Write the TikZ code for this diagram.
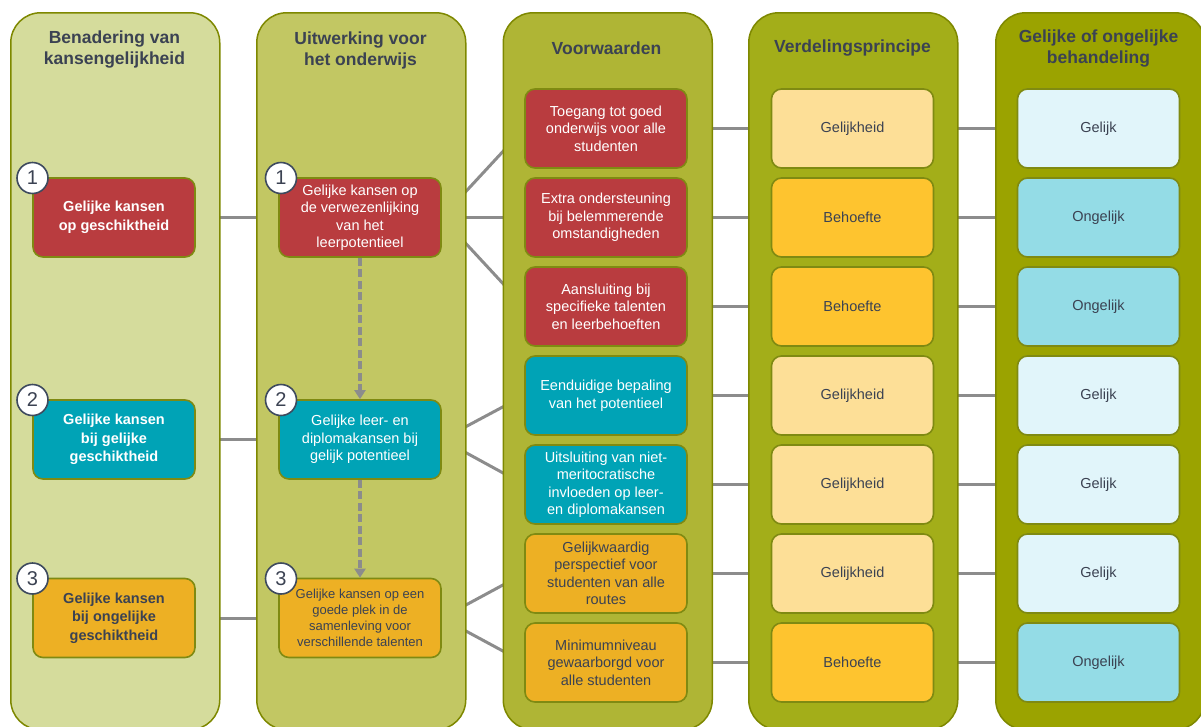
\documentclass[tikz,border=0pt]{standalone}
\usepackage{fontspec}
\setmainfont{Liberation Sans}
\usetikzlibrary{arrows.meta}
\definecolor{pone}{HTML}{D5DC9C}
\definecolor{ptwo}{HTML}{C2C763}
\definecolor{pthree}{HTML}{AFB535}
\definecolor{pfour}{HTML}{A3AE19}
\definecolor{pfive}{HTML}{9BA300}
\definecolor{pborder}{HTML}{7E8800}
\definecolor{bborder}{HTML}{7F8A12}
\definecolor{cred}{HTML}{B93C3F}
\definecolor{cteal}{HTML}{00A3B6}
\definecolor{corange}{HTML}{EDB024}
\definecolor{cpale}{HTML}{FDDF97}
\definecolor{cgold}{HTML}{FEC42F}
\definecolor{cpaleblue}{HTML}{E1F5FA}
\definecolor{clightblue}{HTML}{94DCE6}
\definecolor{tdark}{HTML}{3B4252}
\definecolor{cnavy}{HTML}{3E4A5E}
\definecolor{cgray}{HTML}{8C8C8C}
\pgfdeclarelayer{bg}
\pgfdeclarelayer{panels}
\pgfsetlayers{bg,panels,main}
\tikzset{
  panel/.style={draw=pborder, line width=1.5pt, rounded corners=30pt, minimum width=209pt, minimum height=717pt, anchor=north west, inner sep=0pt},
  head/.style={text=tdark, align=center, font=\fontsize{17.5}{21}\selectfont\bfseries},
  box/.style={draw=bborder, line width=1.6pt, rounded corners=10pt, minimum width=162pt, minimum height=79pt, align=center, inner sep=2pt, font=\fontsize{14.5}{17.5}\selectfont},
  boldbox/.style={box, font=\fontsize{14.5}{18.5}\selectfont\bfseries},
  smallbox/.style={box, font=\fontsize{13}{16}\selectfont},
  redbox/.style={fill=cred, text=white},
  tealbox/.style={fill=cteal, text=white},
  orangebox/.style={fill=corange, text=tdark},
  eqbox/.style={fill=cpale, text=tdark},
  needbox/.style={fill=cgold, text=tdark},
  gbox/.style={fill=cpaleblue, text=tdark},
  ugbox/.style={fill=clightblue, text=tdark},
  num/.style={circle, draw=cnavy, line width=1.6pt, fill=white, minimum size=31pt, inner sep=0pt, text=tdark, font=\fontsize{20}{20}\selectfont},
  conn/.style={draw=cgray, line width=3pt},
  dasharrow/.style={draw=cgray, line width=3.2pt, dash pattern=on 8pt off 3.5pt, -{Triangle[width=11pt,length=9pt]}},
}
\begin{document}
\begin{tikzpicture}[x=1pt,y=-1pt]
\useasboundingbox (0,0) rectangle (1201,726);
% panels
\begin{pgfonlayer}{panels}
\node[panel, fill=pone] (P1) at (10,12) {};
\node[panel, fill=ptwo] (P2) at (256,12) {};
\node[panel, fill=pthree] (P3) at (502.5,12) {};
\node[panel, fill=pfour] (P4) at (748,12) {};
\node[panel, fill=pfive] (P5) at (995,12) {};
\end{pgfonlayer}
% headers
\node[head] (H1) at (114.5,50) {Benadering van\\kansengelijkheid};
\node[head] (H2) at (360.5,50) {Uitwerking voor\\het onderwijs};
\node[head] (H3) at (606.5,48) {Voorwaarden};
\node[head] (H4) at (852.5,48) {Verdelingsprincipe};
\node[head] (H5) at (1098.5,48.5) {Gelijke of ongelijke\\behandeling};
% column 1
\node[boldbox, redbox] (A1) at (114,217.5) {Gelijke kansen\\op geschiktheid};
\node[boldbox, tealbox] (A2) at (114,439.5) {Gelijke kansen\\bij gelijke\\geschiktheid};
\node[boldbox, orangebox] (A3) at (114,618) {Gelijke kansen\\bij ongelijke\\geschiktheid};
% column 2
\node[box, redbox] (B1) at (360,217.5) {Gelijke kansen op\\de verwezenlijking\\van het\\leerpotentieel};
\node[box, tealbox] (B2) at (360,439.5) {Gelijke leer- en\\diplomakansen bij\\gelijk potentieel};
\node[smallbox, orangebox] (B3) at (360,618) {Gelijke kansen op een\\goede plek in de\\samenleving voor\\verschillende talenten};
% number circles
\node[num] (NA1) at (32.5,178) {1};
\node[num] (NA2) at (32.5,400) {2};
\node[num] (NA3) at (32.5,578.5) {3};
\node[num] (NB1) at (281,178) {1};
\node[num] (NB2) at (281,400) {2};
\node[num] (NB3) at (281,578.5) {3};
% column 3
\node[box, redbox] (C1) at (606,128.5) {Toegang tot goed\\onderwijs voor alle\\studenten};
\node[box, redbox] (C2) at (606,217.5) {Extra ondersteuning\\bij belemmerende\\omstandigheden};
\node[box, redbox] (C3) at (606,306.5) {Aansluiting bij\\specifieke talenten\\en leerbehoeften};
\node[box, tealbox] (C4) at (606,395.5) {Eenduidige bepaling\\van het potentieel};
\node[box, tealbox] (C5) at (606,484.5) {Uitsluiting van niet-\\meritocratische\\invloeden op leer-\\en diplomakansen};
\node[box, orangebox] (C6) at (606,573.5) {Gelijkwaardig\\perspectief voor\\studenten van alle\\routes};
\node[box, orangebox] (C7) at (606,662.5) {Minimumniveau\\gewaarborgd voor\\alle studenten};
% column 4
\node[box, eqbox] (D1) at (852.5,128.5) {Gelijkheid};
\node[box, needbox] (D2) at (852.5,217.5) {Behoefte};
\node[box, needbox] (D3) at (852.5,306.5) {Behoefte};
\node[box, eqbox] (D4) at (852.5,395.5) {Gelijkheid};
\node[box, eqbox] (D5) at (852.5,484.5) {Gelijkheid};
\node[box, eqbox] (D6) at (852.5,573.5) {Gelijkheid};
\node[box, needbox] (D7) at (852.5,662.5) {Behoefte};
% column 5
\node[box, gbox] (E1) at (1098.5,128.5) {Gelijk};
\node[box, ugbox] (E2) at (1098.5,217.5) {Ongelijk};
\node[box, ugbox] (E3) at (1098.5,306.5) {Ongelijk};
\node[box, gbox] (E4) at (1098.5,395.5) {Gelijk};
\node[box, gbox] (E5) at (1098.5,484.5) {Gelijk};
\node[box, gbox] (E6) at (1098.5,573.5) {Gelijk};
\node[box, ugbox] (E7) at (1098.5,662.5) {Ongelijk};
% dashed arrows
\draw[dasharrow] (B1.south) -- (B2.north);
\draw[dasharrow] (B2.south) -- (B3.north);
% connectors behind panels
\begin{pgfonlayer}{bg}
\draw[conn] (A1.east) -- (B1.west);
\draw[conn] (A2.east) -- (B2.west);
\draw[conn] (A3.east) -- (B3.west);
\draw[conn] (B1.east) -- (C1.west);
\draw[conn] (B1.east) -- (C2.west);
\draw[conn] (B1.east) -- (C3.west);
\draw[conn] (B2.east) -- (C4.west);
\draw[conn] (B2.east) -- (C5.west);
\draw[conn] (B3.east) -- (C6.west);
\draw[conn] (B3.east) -- (C7.west);
\foreach \i in {1,...,7}{
  \draw[conn] (C\i.east) -- (D\i.west);
  \draw[conn] (D\i.east) -- (E\i.west);
}
\end{pgfonlayer}
\end{tikzpicture}
\end{document}
